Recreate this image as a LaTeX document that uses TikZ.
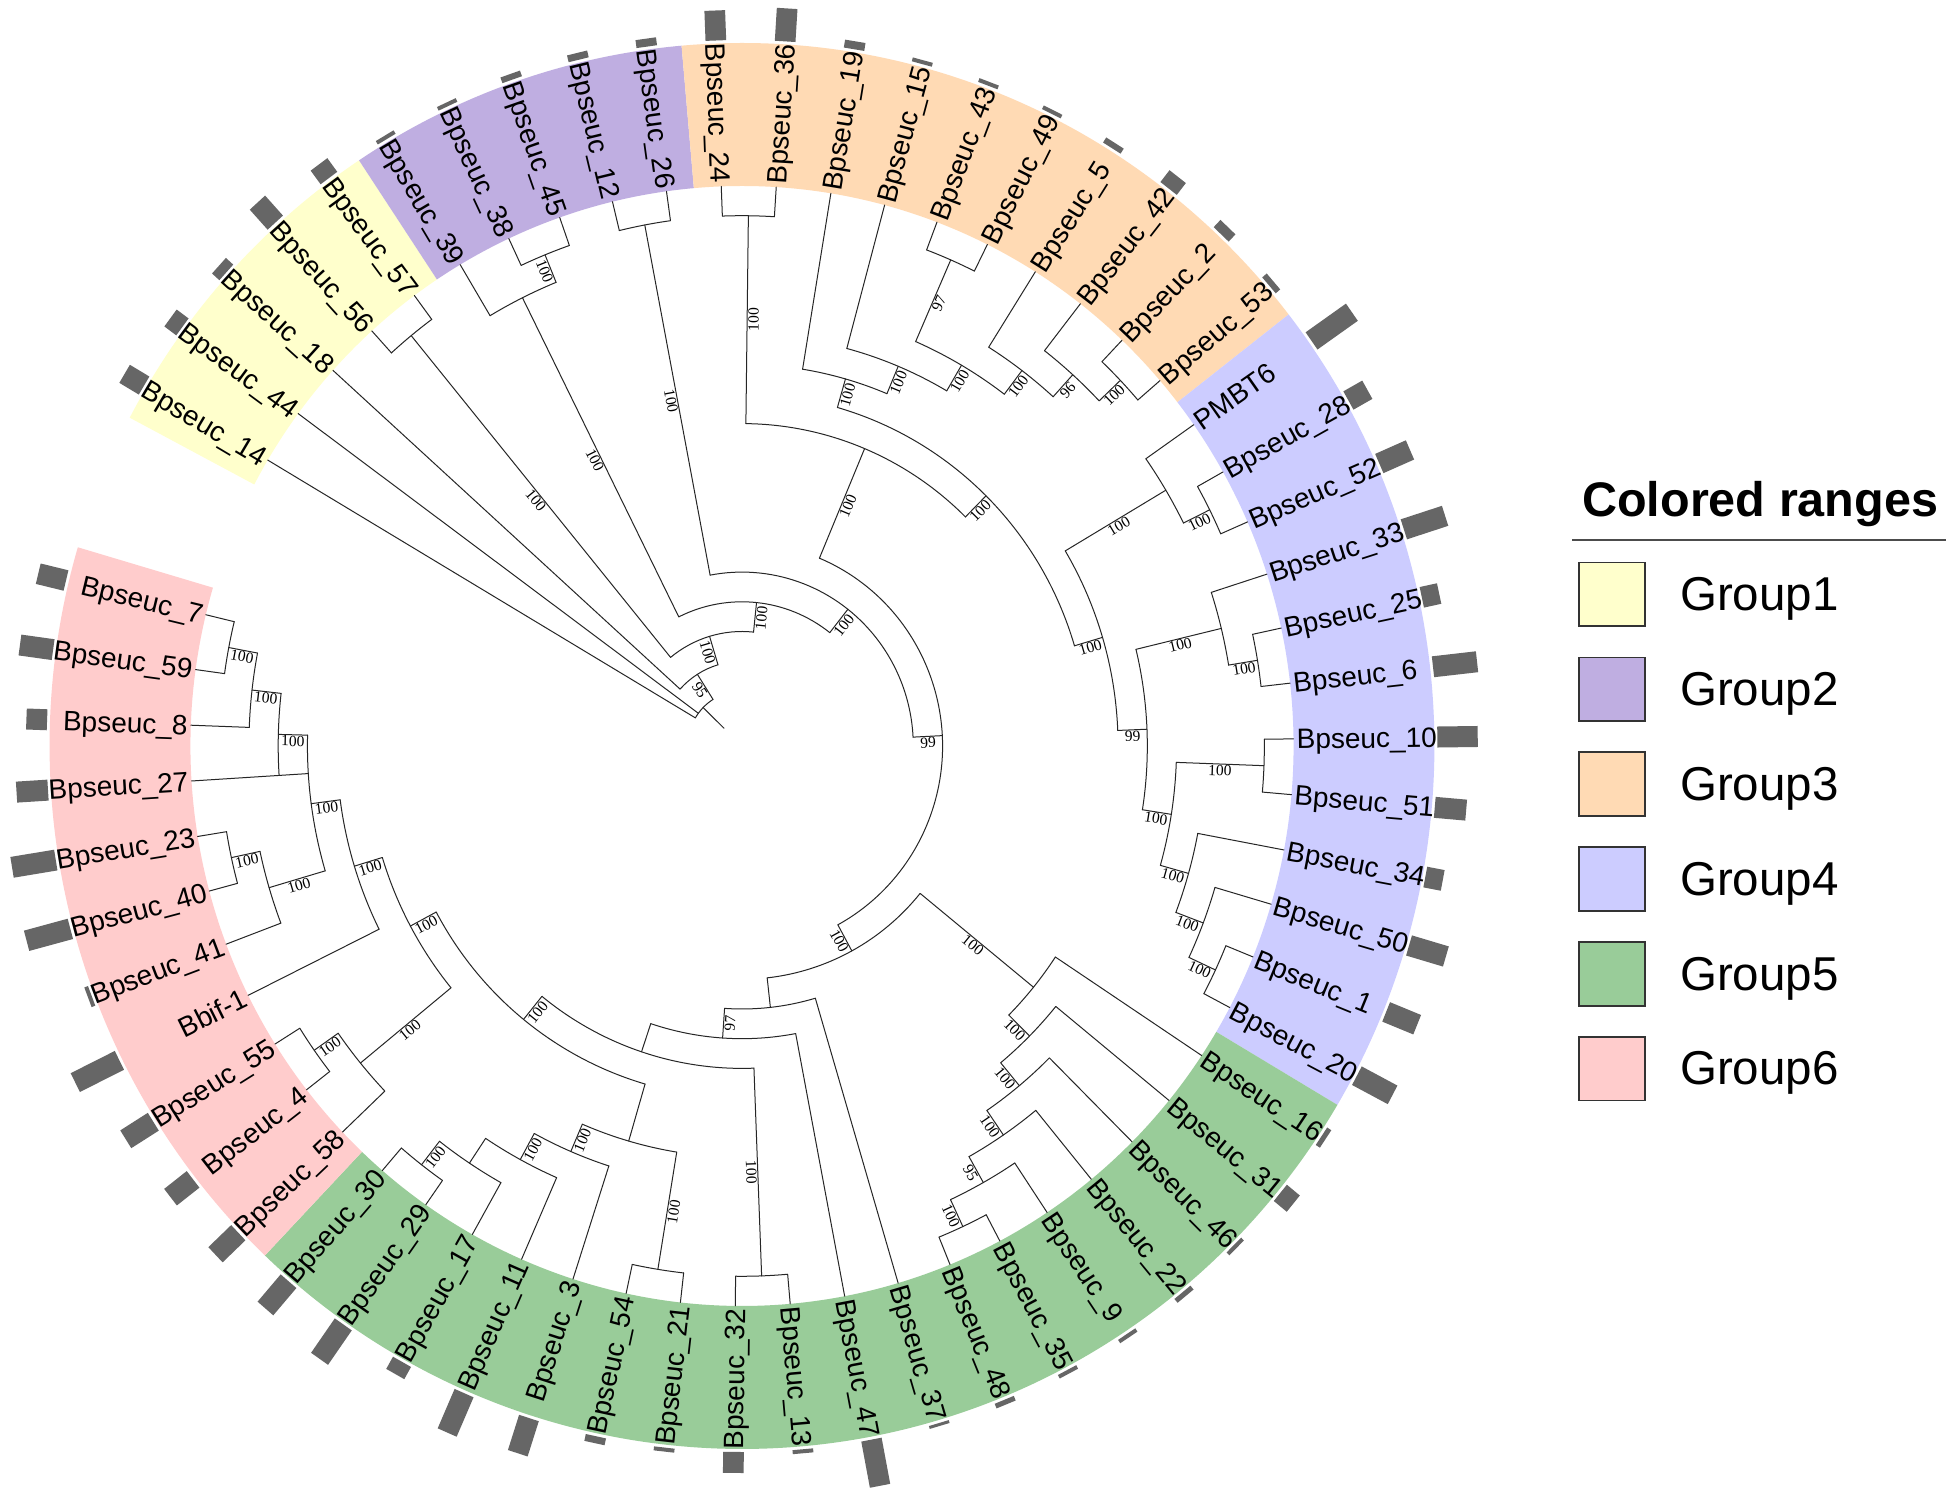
\documentclass[tikz,border=0pt]{standalone}
\usepackage{fontspec}
\setmainfont{Liberation Sans}
\newfontfamily\bsfont{Liberation Serif}
\usepackage{graphicx}
\definecolor{gA}{RGB}{255,255,204}
\definecolor{gB}{RGB}{191,174,225}
\definecolor{gC}{RGB}{255,218,180}
\definecolor{gD}{RGB}{204,204,255}
\definecolor{gE}{RGB}{153,204,153}
\definecolor{gF}{RGB}{255,204,204}
\definecolor{barc}{RGB}{102,102,102}
\begin{document}
\begin{tikzpicture}[x=1pt,y=1pt,
  tree/.style={line width=1pt, draw=black!85, line cap=round},
  barstyle/.style={fill=barc},
  leaflab/.style={font=\fontsize{28}{30}\selectfont, inner sep=0pt, text height=20pt, text depth=0pt},
  bslab/.style={font=\bsfont\fontsize{15.5}{17}\selectfont, inner sep=1pt},
  legbox/.style={line width=1.6pt, draw=black!80},
  legtext/.style={font=\fontsize{47.5}{50}\selectfont, anchor=base west, inner sep=0pt}]
\useasboundingbox (0,0) rectangle (1950,1495);
\fill[white] (0,0) rectangle (1950,1495);
\begin{scope}[shift={(742,749)}, xscale=0.985]
  % colored ranges
  \foreach \sa/\ea/\col in {152.16/123.58/gA, 123.58/95.01/gB, 95.01/37.87/gC, 37.87/-30.70/gD, -30.70/-133.55/gE, -133.55/-196.42/gF}{
    \fill[\col] (\sa:560) arc[start angle=\sa, end angle=\ea, radius=560] -- (\ea:703) arc[start angle=\ea, end angle=\sa, radius=703] -- cycle;
  }
  % internal nodes: name/angle/height/parent height/arc start/arc end/support
  \def\nolab{-}
  \foreach \na/\an/\hh/\pp/\sa/\ea/\val in {
    root/135.80/17/18/149.30/122.29/-,
    n95/122.29/16/17/137.87/106.715/95,
    X0/106.715/15/16/129.30/84.13/100,
    c5657/129.30/1/15/132.16/126.44/100,
    X1/84.13/14/15/116.44/51.825/100,
    G2a/116.44/2/14/120.73/112.155/100,
    c3845/112.155/1/2/115.01/109.30/100,
    X2/51.825/13/14/100.73/2.92/100,
    c1226/100.73/1/13/103.59/97.87/100,
    N99/2.92/12/13/67.29/-61.45/99,
    Y1/67.29/8/12/89.30/45.28/100,
    c2436/89.30/1/8/92.16/86.44/100,
    Y2/45.28/7/8/74.03/16.53/100,
    A5/74.03/6/7/80.73/67.33/100,
    A4/67.33/5/6/75.01/59.66/100,
    A3/59.66/4/5/66.445/52.87/100,
    c4349/66.445/1/4/69.30/63.59/97,
    A2/52.87/3/4/57.87/47.87/100,
    A1/47.87/2/3/52.16/43.585/96,
    c253/43.585/1/2/46.44/40.73/100,
    W/16.53/6/7/30.73/2.335/100,
    P1/30.73/2/6/35.01/26.445/100,
    c2852/26.445/1/2/29.30/23.59/100,
    V/2.335/5/6/13.585/-8.915/99,
    V1/13.585/2/5/17.87/9.30/100,
    c256/9.30/1/2/12.16/6.44/100,
    V2/-8.915/4/5/-2.13/-15.70/100,
    c1051/-2.13/1/4/0.73/-4.99/100,
    V3/-15.70/3/4/-10.70/-20.70/100,
    V4/-20.70/2/3/-16.41/-24.985/100,
    c120/-24.985/1/2/-22.13/-27.84/100,
    Z/-61.45/11/12/-39.185/-83.71/100,
    Z1/-39.185/6/11/-33.56/-44.81/100,
    Z1a/-44.81/5/6/-39.27/-50.345/100,
    Z1b/-50.345/4/5/-44.99/-55.70/100,
    Z1c/-55.70/3/4/-50.70/-60.70/100,
    Z1d/-60.70/2/3/-56.41/-64.985/95,
    c3548/-64.985/1/2/-62.13/-67.84/100,
    Z2/-83.71/10/11/-73.56/-93.86/-,
    Z3/-93.86/9/10/-79.27/-108.45/97,
    Z4/-108.45/8/9/-87.845/-129.05/-,
    c3213/-87.845/1/8/-84.99/-90.70/100,
    Z5/-129.05/7/8/-106.235/-151.86/100,
    Q/-106.235/5/7/-99.27/-113.20/-,
    c5421/-99.27/1/5/-96.41/-102.13/100,
    R1c/-113.20/4/5/-107.84/-118.56/100,
    R1b/-118.56/3/4/-113.56/-123.56/100,
    R1/-123.56/2/3/-119.27/-127.845/-,
    c2930/-127.845/1/2/-124.99/-130.70/100,
    R3/-151.86/6/7/-140.70/-163.02/100,
    R2/-140.70/2/6/-136.41/-144.985/100,
    c554/-144.985/1/2/-142.13/-147.84/100,
    R4/-163.02/5/6/-153.56/-172.485/100,
    R7/-172.485/4/5/-163.56/-181.41/100,
    R8/-163.56/2/4/-159.27/-167.845/100,
    c2340/-167.845/1/2/-164.99/-170.70/100,
    R6/-181.41/3/4/-176.41/-186.415/100,
    R5/-186.415/2/3/-182.13/-190.70/100,
    c759/-190.70/1/2/-187.84/-193.56/100}{
    \pgfmathsetmacro\rn{560-29.7*\hh}
    \pgfmathsetmacro\rpar{560-29.7*\pp}
    \pgfmathsetmacro\rmid{(\rn+\rpar)/2}
    \coordinate (\na) at (\an:\rn);
    \coordinate (\na-base) at (\an:\rpar);
    \draw[tree] (\na-base) -- (\na);
    \draw[tree] (\sa:\rn) arc[start angle=\sa, end angle=\ea, radius=\rn];
    \ifx\val\nolab\else
      \pgfmathtruncatemacro\isR{(\an>-90 && \an<90) ? 1 : 0}
      \ifnum\isR=1 \edef\rot{\an}\else\pgfmathsetmacro\rot{\an+180}\fi
      \node[bslab, rotate=\rot, anchor=north] (\na-lab) at (\an:\rmid) {\val};
    \fi
  }
  % leaves: index/label/parent height/bar length
  \foreach \kk/\txt/\pp/\bl in {
    0/Bpseuc\_14/17/23, 1/Bpseuc\_44/17/15, 2/Bpseuc\_18/16/10, 3/Bpseuc\_56/1/27,
    4/Bpseuc\_57/1/17, 5/Bpseuc\_39/2/4, 6/Bpseuc\_38/1/4, 7/Bpseuc\_45/1/6,
    8/Bpseuc\_12/1/7, 9/Bpseuc\_26/1/8, 10/Bpseuc\_24/1/30, 11/Bpseuc\_36/1/33,
    12/Bpseuc\_19/6/8, 13/Bpseuc\_15/5/4, 14/Bpseuc\_43/1/4, 15/Bpseuc\_49/1/4,
    16/Bpseuc\_5/3/6, 17/Bpseuc\_42/2/15, 18/Bpseuc\_2/1/10, 19/Bpseuc\_53/1/6,
    20/PMBT6/2/50, 21/Bpseuc\_28/1/22, 22/Bpseuc\_52/1/34, 23/Bpseuc\_33/2/44,
    24/Bpseuc\_25/1/18, 25/Bpseuc\_6/1/45, 26/Bpseuc\_10/1/41, 27/Bpseuc\_51/1/32,
    28/Bpseuc\_34/3/18, 29/Bpseuc\_50/2/39, 30/Bpseuc\_1/1/34, 31/Bpseuc\_20/1/41,
    32/Bpseuc\_16/6/5, 33/Bpseuc\_31/5/17, 34/Bpseuc\_46/4/4, 35/Bpseuc\_22/3/5,
    36/Bpseuc\_9/2/4, 37/Bpseuc\_35/1/4, 38/Bpseuc\_48/1/5, 39/Bpseuc\_37/10/3,
    40/Bpseuc\_47/9/47, 41/Bpseuc\_13/1/4, 42/Bpseuc\_32/1/21, 43/Bpseuc\_21/1/4,
    44/Bpseuc\_54/1/7, 45/Bpseuc\_3/4/37, 46/Bpseuc\_11/3/43, 47/Bpseuc\_17/2/14,
    48/Bpseuc\_29/1/42, 49/Bpseuc\_30/1/36, 50/Bpseuc\_58/2/32, 51/Bpseuc\_4/1/29,
    52/Bpseuc\_55/1/33, 53/Bbif-1/5/50, 54/Bpseuc\_41/2/4, 55/Bpseuc\_40/1/46,
    56/Bpseuc\_23/1/45, 57/Bpseuc\_27/4/32, 58/Bpseuc\_8/2/21, 59/Bpseuc\_59/1/34,
    60/Bpseuc\_7/1/29}{
    \pgfmathsetmacro\ta{149.3-5.7143*\kk}
    \pgfmathsetmacro\rpar{560-29.7*\pp}
    \coordinate (tip\kk) at (\ta:560);
    \draw[tree] (\ta:\rpar) -- (tip\kk);
    \begin{scope}[rotate=\ta]
      \fill[barstyle] (706,-10.5) rectangle ({706+\bl},10.5);
    \end{scope}
    \pgfmathtruncatemacro\isR{(\ta>-90 && \ta<90) ? 1 : 0}
    \ifnum\isR=1
      \node[leaflab, anchor=west, rotate=\ta] (leaf\kk) at (\ta:563) {\txt};
    \else
      \pgfmathsetmacro\rot{\ta+180}
      \node[leaflab, anchor=east, rotate=\rot] (leaf\kk) at (\ta:563) {\txt};
    \fi
  }
\end{scope}
% legend
\node[anchor=base west, inner sep=0pt] (legtitle) at (1582,978.4) {\resizebox{356pt}{!}{\fontsize{48.5}{50}\selectfont\bfseries Colored ranges}};
\coordinate (ruleL) at (1572,955);
\coordinate (ruleR) at (1946,955);
\draw[line width=1.5pt, black!70] (ruleL) -- (ruleR);
\foreach \i/\col in {1/gA, 2/gB, 3/gC, 4/gD, 5/gE, 6/gF}{
  \pgfmathsetmacro\ytop{932.5-94.9*(\i-1)}
  \draw[legbox, fill=\col] (1579,\ytop) rectangle (1645,\ytop-63.7);
  \node[legtext] (leg\i) at (1680,\ytop-48) {Group\i};
}
\end{tikzpicture}
\end{document}
